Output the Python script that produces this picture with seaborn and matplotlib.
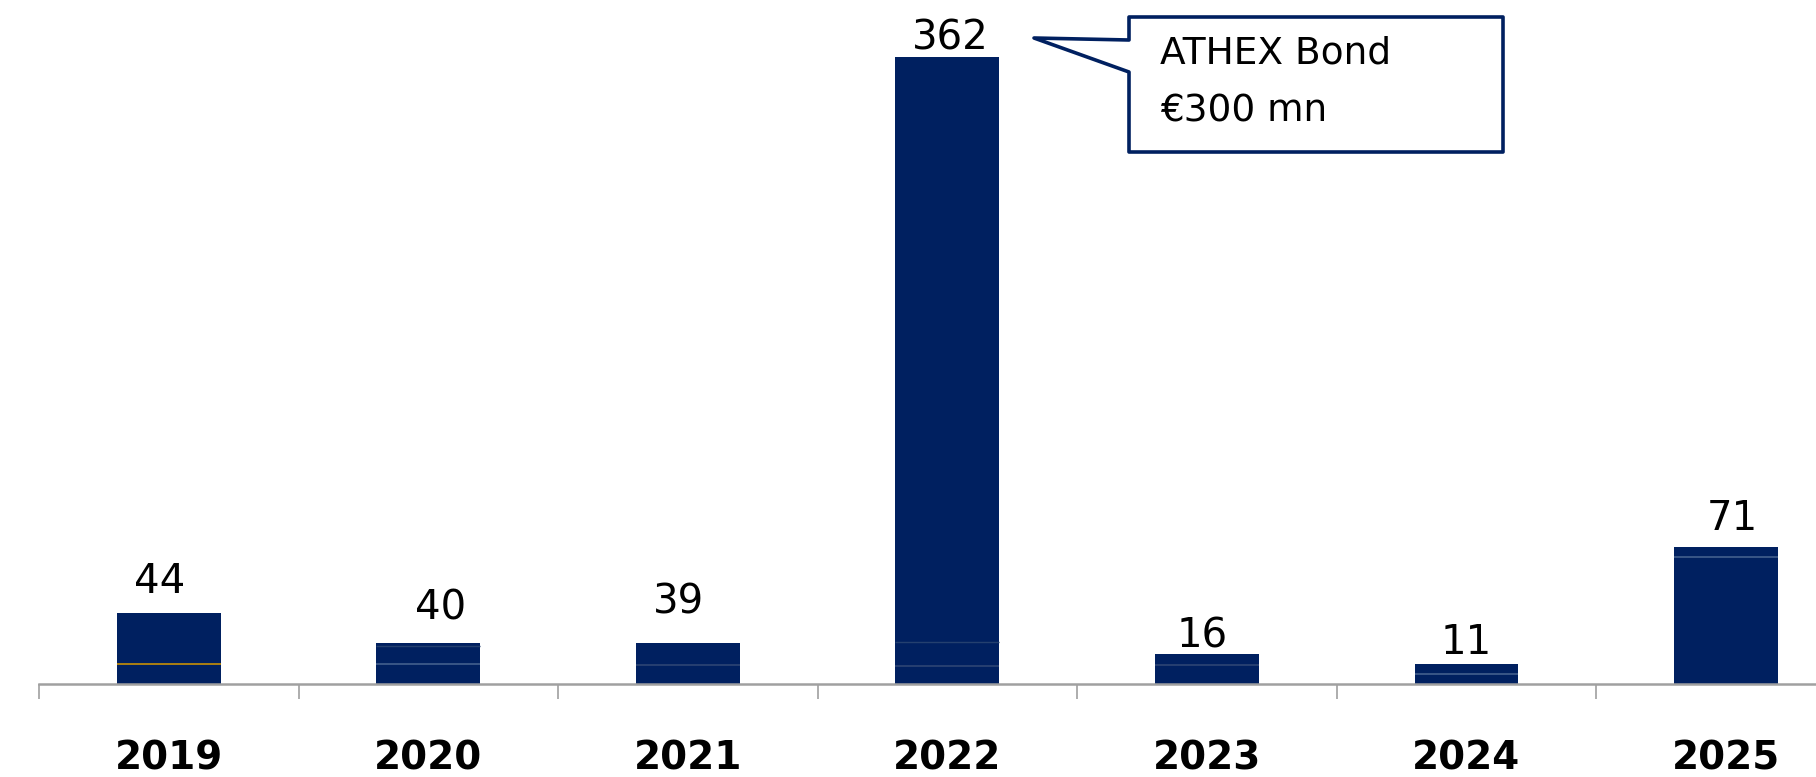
import numpy as np
import pandas as pd
import matplotlib.pyplot as plt
import seaborn as sns
from matplotlib.patches import Polygon

# Datos del grafico
years = ['2019', '2020', '2021', '2022', '2023', '2024', '2025']
seg_a = [11.5, 11.5, 11.0, 10.4, 11.0, 5.8, 73.3]
seg_b = [29.4, 10.4, 12.7, 13.9, 6.4, 5.8, 5.8]
seg_c = [0.0, 1.7, 0.0, 337.7, 0.0, 0.0, 0.0]
labels = [44, 40, 39, 362, 16, 11, 71]
callout_lines = ['ATHEX Bond', '€300 mn']

# Estilo
sns.set_style('white')
plt.rcParams['font.family'] = ['DejaVu Sans']
plt.rcParams['text.color'] = 'black'
plt.rcParams['xtick.color'] = 'black'
navy = '#002060'
sep_colors = ['#B8860B', '#3D5A8A', '#2A4272', '#2A4272', '#2A4272', '#3D5A8A', '#3D5A8A']
label_gap_px = [31, 35, 40, 19, 17, 21, 28]
label_dx_px = [-9, 12, -9, 3, -5, 0, 6]

df = pd.DataFrame({'year': years, 'a': seg_a, 'b': seg_b, 'c': seg_c})
df['cum1'] = df['a']
df['cum2'] = df['a'] + df['b']
df['cum3'] = df['cum2'] + df['c']

W, H = 1816, 777
fig = plt.figure(figsize=(W / 100, H / 100), dpi=100)
ax = fig.add_axes([39 / W, 93 / H, 1 - 39 / W, 684 / H])

# Barras apiladas: se dibuja de la mas alta a la mas baja
for col in ['cum3', 'cum2', 'cum1']:
    sns.barplot(data=df, x='year', y=col, color=navy, saturation=1,
                width=0.4, linewidth=0, ax=ax)

# Lineas separadoras entre segmentos
for i in range(len(years)):
    ax.hlines(df['cum1'][i], i - 0.2, i + 0.2, color=sep_colors[i], lw=1.3, zorder=5)
    if df['c'][i] > 0:
        ax.hlines(df['cum2'][i], i - 0.2, i + 0.2, color='#24406F', lw=1.0, zorder=5)

# Etiquetas de valores
for i, v in enumerate(labels):
    ax.annotate(str(v), (i, df['cum3'][i]),
                xytext=(label_dx_px[i] * 0.72, label_gap_px[i] * 0.72),
                textcoords='offset points', ha='center', va='center', fontsize=29,
                color='black')

ax.set_xlim(-0.5, (W - 169) / 259.5)
ax.set_ylim(0, 395)
ax.set_xlabel('')
ax.set_ylabel('')
ax.set_yticks([])
for s in ['left', 'top', 'right']:
    ax.spines[s].set_visible(False)
ax.spines['bottom'].set_color('#A0A0A0')
ax.spines['bottom'].set_linewidth(1.8)

ax.set_xticks(range(len(years)))
ax.set_xticklabels(years, fontsize=28, fontweight='bold', color='black')
ax.tick_params(axis='x', which='major', bottom=True, length=0, pad=40)
ax.set_xticks(np.arange(-0.5, len(years) - 1, 1.0), minor=True)
ax.tick_params(axis='x', which='minor', bottom=True, length=11, width=1.2,
               color='#A0A0A0', direction='out')

# Llamada (callout) ATHEX Bond
pts_px = [(1129, 17), (1503, 17), (1503, 152), (1129, 152), (1129, 72), (1034, 38), (1129, 40)]
pts = [(x / W, 1 - y / H) for x, y in pts_px]
fig.add_artist(Polygon(pts, closed=True, transform=fig.transFigure, facecolor='white',
                       edgecolor=navy, lw=2.6, joinstyle='round'))
fig.text(1160 / W, 1 - 54 / H, callout_lines[0], va='center', ha='left', fontsize=27)
fig.text(1160 / W, 1 - 111 / H, callout_lines[1], va='center', ha='left', fontsize=27)

fig.savefig('out.png', dpi=100)
